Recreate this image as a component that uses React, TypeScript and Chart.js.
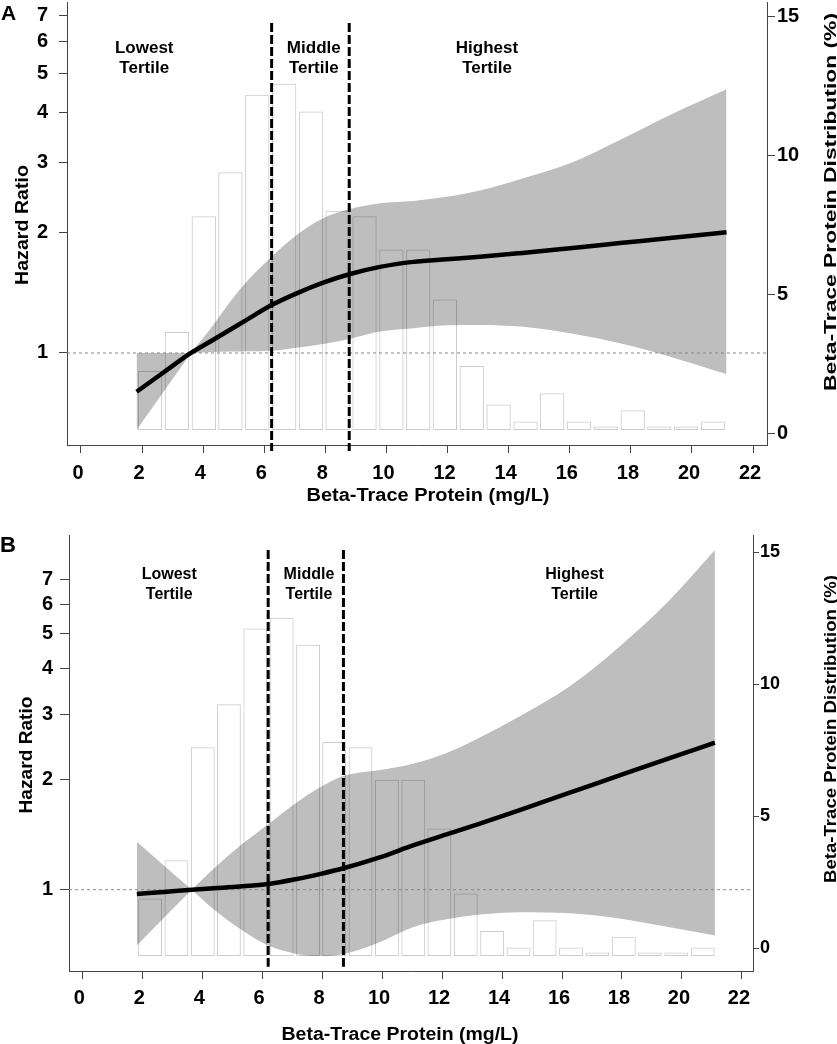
import React, { useEffect, useRef } from "react";
import { Chart, registerables } from "chart.js";

Chart.register(...registerables);

const FONT = '"Liberation Sans", Arial, Helvetica, sans-serif';
Chart.defaults.font.family = FONT;

// ---------------- data ----------------
const xTickValues = [0, 2, 4, 6, 8, 10, 12, 14, 16, 18, 20, 22];
const hrTickValues = [1, 2, 3, 4, 5, 6, 7];
const pctTickValues = [0, 5, 10, 15];

const xAxisTitle = "Beta-Trace Protein (mg/L)";
const yAxisTitle = "Hazard Ratio";
const y2AxisTitle = "Beta-Trace Protein Distribution (%)";
const tertileLabels = [
  ["Lowest", "Tertile"],
  ["Middle", "Tertile"],
  ["Highest", "Tertile"],
];

// histogram of beta-trace protein (same in both panels)
const binCenters = [2.26, 3.14, 4.02, 4.89, 5.77, 6.65, 7.53, 8.4, 9.28, 10.16, 11.04, 11.91, 12.79, 13.67, 14.55, 15.42, 16.3, 17.18, 18.06, 18.93, 19.81, 20.69];
const distributionPct = [2.12, 3.53, 7.7, 9.28, 12.07, 12.47, 11.47, 7.89, 7.7, 6.5, 6.5, 4.7, 2.3, 0.92, 0.31, 1.32, 0.31, 0.13, 0.71, 0.13, 0.13, 0.31];

// Panel A
const xA = [1.82, 2.71, 3.6, 4.33, 4.88, 5.42, 6.24, 7.06, 7.93, 8.78, 9.79, 10.88, 11.97, 13.06, 14.37, 16.01, 17.64, 19.28, 21.13];
const hrA = [0.8, 0.895, 1.0, 1.079, 1.143, 1.21, 1.318, 1.41, 1.5, 1.574, 1.642, 1.69, 1.716, 1.74, 1.777, 1.829, 1.883, 1.939, 2.004];
const upperA = [1.0, 1.0, 1.0, 1.175, 1.344, 1.508, 1.741, 1.974, 2.173, 2.288, 2.369, 2.401, 2.46, 2.55, 2.72, 2.983, 3.412, 3.939, 4.568];
const lowerA = [0.642, 0.801, 1.0, 1.006, 1.008, 1.01, 1.013, 1.031, 1.053, 1.084, 1.131, 1.153, 1.173, 1.175, 1.164, 1.12, 1.057, 0.979, 0.886];
const cutsA = [6.24, 8.78];

// Panel B
const xB = [1.82, 2.73, 3.65, 4.37, 5.26, 6.2, 7.15, 7.92, 8.71, 9.92, 11.03, 12.15, 13.26, 14.59, 16.26, 17.92, 19.59, 21.1];
const hrB = [0.973, 0.986, 1.0, 1.009, 1.02, 1.036, 1.069, 1.103, 1.144, 1.225, 1.32, 1.415, 1.515, 1.649, 1.839, 2.05, 2.286, 2.517];
const upperB = [1.351, 1.162, 1.0, 1.138, 1.317, 1.509, 1.729, 1.899, 2.042, 2.12, 2.207, 2.36, 2.6, 2.973, 3.588, 4.609, 6.174, 8.446];
const lowerB = [0.704, 0.839, 1.0, 0.886, 0.782, 0.704, 0.668, 0.659, 0.668, 0.719, 0.79, 0.83, 0.855, 0.868, 0.862, 0.835, 0.79, 0.75];
const cutsB = [6.2, 8.71];

const pinchIndex = 2; // reference point where the confidence band collapses

// ---------------- layout (positions / styles) ----------------
const layoutA = {
  top: 0, canvasHeight: 520, padTop: 2, leftW: 67, rightW: 70, bottomH: 75,
  xRange: [-0.458, 22.455], hrRange: [0.5886, 7.55], pctRange: [-0.42, 15.53], histRange: [-0.54, 15.41],
  cutSpan: [0.569, 6.69],
  leftTick: { len: 8, pad: 11, size: 20 }, rightTick: { len: 8, pad: 2, size: 20 }, xTick: { len: 8, pad: 8, size: 20 },
  tertileX: [2.07, 7.62, 13.29], tertileBaselines: [52.7, 72.7], tertileSize: 17,
  letter: { text: "A", x: 1, y: 20, size: 21 },
  xTitle: { cx: 428, base: 501, len: 243, size: 18 },
  yTitle: { bx: 28.3, cy: 225, len: 120, size: 19 },
  y2Title: { bx: 836, cy: 202, len: 378, size: 16 },
};

const layoutB = {
  top: 520, canvasHeight: 524, padTop: 15, leftW: 69, rightW: 84, bottomH: 73,
  xRange: [-0.443, 22.37], hrRange: [0.605, 9.28], pctRange: [-0.86, 15.655], histRange: [-0.553, 15.52],
  cutSpan: [0.616, 8.45],
  leftTick: { len: 9, pad: 7, size: 20 }, rightTick: { len: 6, pad: 1, size: 18 }, xTick: { len: 8, pad: 7, size: 20 },
  tertileX: [2.9, 7.56, 16.42], tertileBaselines: [58.5, 78.7], tertileSize: 16,
  letter: { text: "B", x: 0, y: 31.7, size: 22 },
  xTitle: { cx: 400, base: 520, len: 237, size: 18 },
  yTitle: { bx: 31.7, cy: 235, len: 117, size: 19 },
  y2Title: { bx: 836, cy: 209, len: 308, size: 16 },
};

const AXIS_COLOR = "#444";
const BAND_COLOR = "#bebebe";

function drawFitted(ctx, text, x, y, rot, len, size) {
  ctx.save();
  ctx.font = `bold ${size}px ${FONT}`;
  ctx.translate(x, y);
  ctx.rotate(rot);
  const w = ctx.measureText(text).width;
  ctx.scale(len / w, 1);
  ctx.textAlign = "center";
  ctx.textBaseline = "alphabetic";
  ctx.fillStyle = "#000";
  ctx.fillText(text, 0, 0);
  ctx.restore();
}

function makeTextPlugin(L) {
  return {
    id: "panelText",
    afterDraw(chart) {
      const { ctx } = chart;
      const xs = chart.scales.x;
      ctx.save();
      ctx.fillStyle = "#000";
      ctx.textBaseline = "alphabetic";
      ctx.textAlign = "left";
      ctx.font = `bold ${L.letter.size}px ${FONT}`;
      ctx.fillText(L.letter.text, L.letter.x, L.letter.y);
      ctx.font = `bold ${L.tertileSize}px ${FONT}`;
      ctx.textAlign = "center";
      tertileLabels.forEach((lines, i) => {
        const px = xs.getPixelForValue(L.tertileX[i]);
        lines.forEach((t, j) => ctx.fillText(t, px, L.tertileBaselines[j]));
      });
      ctx.restore();
      drawFitted(ctx, xAxisTitle, L.xTitle.cx, L.xTitle.base, 0, L.xTitle.len, L.xTitle.size);
      drawFitted(ctx, yAxisTitle, L.yTitle.bx, L.yTitle.cy, -Math.PI / 2, L.yTitle.len, L.yTitle.size);
      drawFitted(ctx, y2AxisTitle, L.y2Title.bx, L.y2Title.cy, -Math.PI / 2, L.y2Title.len, L.y2Title.size);
    },
  };
}

function pts(xs, ys, from, to) {
  const out = [];
  for (let i = from; i <= to; i++) out.push({ x: xs[i], y: ys[i] });
  return out;
}

function buildConfig(xs, hr, upper, lower, cuts, L) {
  const last = xs.length - 1;
  const bandLine = { borderColor: "rgba(0,0,0,0)", borderWidth: 0, pointRadius: 0, yAxisID: "y", order: 3 };
  const datasets = [
    {
      type: "line", label: "Hazard ratio", data: pts(xs, hr, 0, last), yAxisID: "y",
      borderColor: "#000", borderWidth: 4.5, pointRadius: 0, cubicInterpolationMode: "monotone", fill: false, order: 0,
    },
    {
      type: "line", data: [{ x: cuts[0], y: L.cutSpan[1] }, { x: cuts[0], y: L.cutSpan[0] }], yAxisID: "y",
      borderColor: "#000", borderWidth: 3, borderDash: [9, 3], pointRadius: 0, fill: false, clip: false, order: 0,
    },
    {
      type: "line", data: [{ x: cuts[1], y: L.cutSpan[1] }, { x: cuts[1], y: L.cutSpan[0] }], yAxisID: "y",
      borderColor: "#000", borderWidth: 3, borderDash: [9, 3], pointRadius: 0, fill: false, clip: false, order: 0,
    },
    {
      type: "line", data: [{ x: L.xRange[0], y: 1 }, { x: L.xRange[1], y: 1 }], yAxisID: "y",
      borderColor: "#888", borderWidth: 1, borderDash: [3, 3], pointRadius: 0, fill: false, order: 1,
    },
    {
      type: "bar", data: binCenters.map((x, i) => ({ x, y: distributionPct[i] })), yAxisID: "yh",
      backgroundColor: "rgba(0,0,0,0)", borderColor: "rgba(0,0,0,0.2)", borderWidth: 1, borderSkipped: false,
      barPercentage: 0.915, categoryPercentage: 1, order: 2,
    },
    { type: "line", ...bandLine, data: pts(xs, upper, 0, pinchIndex), tension: 0, fill: 6, backgroundColor: BAND_COLOR },
    { type: "line", ...bandLine, data: pts(xs, lower, 0, pinchIndex), tension: 0, fill: false },
    { type: "line", ...bandLine, data: pts(xs, upper, pinchIndex, last), cubicInterpolationMode: "monotone", fill: 8, backgroundColor: BAND_COLOR },
    { type: "line", ...bandLine, data: pts(xs, lower, pinchIndex, last), cubicInterpolationMode: "monotone", fill: false },
  ];

  const tickFont = (size) => ({ family: FONT, size, weight: "bold" });
  const noPad = (s) => {
    s.paddingTop = 0;
    s.paddingBottom = 0;
    s.paddingLeft = 0;
    s.paddingRight = 0;
  };

  return {
    type: "line",
    data: { datasets },
    plugins: [makeTextPlugin(L)],
    options: {
      responsive: false,
      maintainAspectRatio: false,
      devicePixelRatio: 1,
      animation: false,
      events: [],
      layout: { padding: { top: L.padTop, left: 0, right: 0, bottom: 0 } },
      plugins: { legend: { display: false }, tooltip: { enabled: false }, title: { display: false } },
      scales: {
        x: {
          type: "linear", position: "bottom", min: L.xRange[0], max: L.xRange[1], offset: false,
          afterBuildTicks: (s) => { s.ticks = xTickValues.map((v) => ({ value: v })); },
          afterFit: (s) => { s.height = L.bottomH; noPad(s); },
          grid: { offset: false, drawOnChartArea: false, drawTicks: true, tickLength: L.xTick.len, tickColor: AXIS_COLOR },
          border: { display: true, color: AXIS_COLOR, width: 1 },
          ticks: {
            color: "#000", font: tickFont(L.xTick.size), padding: L.xTick.pad, maxRotation: 0, autoSkip: false,
            labelOffset: -3, callback: (v) => String(v),
          },
        },
        y: {
          type: "logarithmic", position: "left", min: L.hrRange[0], max: L.hrRange[1],
          afterBuildTicks: (s) => { s.ticks = hrTickValues.map((v) => ({ value: v })); },
          afterFit: (s) => { s.width = L.leftW; noPad(s); },
          grid: { drawOnChartArea: false, drawTicks: true, tickLength: L.leftTick.len, tickColor: AXIS_COLOR },
          border: { display: true, color: AXIS_COLOR, width: 1 },
          ticks: { color: "#000", font: tickFont(L.leftTick.size), padding: L.leftTick.pad, autoSkip: false, callback: (v) => String(v) },
        },
        y2: {
          type: "linear", position: "right", min: L.pctRange[0], max: L.pctRange[1],
          afterBuildTicks: (s) => { s.ticks = pctTickValues.map((v) => ({ value: v })); },
          afterFit: (s) => { s.width = L.rightW; noPad(s); },
          grid: { drawOnChartArea: false, drawTicks: true, tickLength: L.rightTick.len, tickColor: AXIS_COLOR },
          border: { display: true, color: AXIS_COLOR, width: 1 },
          ticks: { color: "#000", font: tickFont(L.rightTick.size), padding: L.rightTick.pad, autoSkip: false, callback: (v) => String(v) },
        },
        yh: { type: "linear", display: false, min: L.histRange[0], max: L.histRange[1] },
      },
    },
  };
}

function Panel({ xs, hr, upper, lower, cuts, layout }) {
  const ref = useRef(null);
  useEffect(() => {
    const chart = new Chart(ref.current, buildConfig(xs, hr, upper, lower, cuts, layout));
    return () => chart.destroy();
  }, []);
  return (
    <canvas
      ref={ref}
      width={837}
      height={layout.canvasHeight}
      style={{ position: "absolute", left: 0, top: layout.top, width: 837, height: layout.canvasHeight, display: "block" }}
    />
  );
}

export default function App() {
  return (
    <div style={{ position: "absolute", left: 0, top: 0, width: 837, height: 1044, background: "#fff" }}>
      <Panel xs={xA} hr={hrA} upper={upperA} lower={lowerA} cuts={cutsA} layout={layoutA} />
      <Panel xs={xB} hr={hrB} upper={upperB} lower={lowerB} cuts={cutsB} layout={layoutB} />
    </div>
  );
}
